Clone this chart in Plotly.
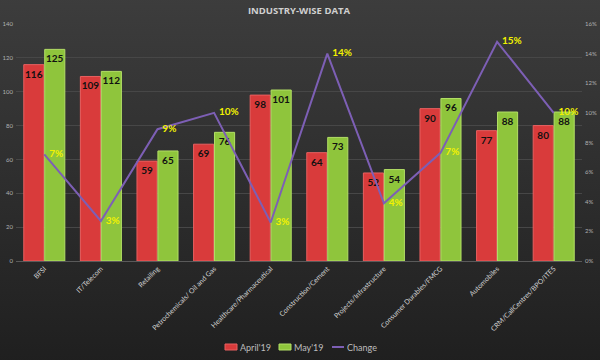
import base64
import plotly.graph_objects as go

categories = ["BFSI", "IT/Telecom", "Retailing", "Petrochemicals/ Oil and Gas",
              "Healthcare/Pharmaceutical", "Construction/Cement", "Projects/Infrastructure",
              "Consumer Durables/FMCG", "Automobiles", "CRM/CallCentres/BPO/ITES"]
april19 = [116, 109, 59, 69, 98, 64, 52, 90, 77, 80]
may19 = [125, 112, 65, 76, 101, 73, 54, 96, 88, 88]
change = [0.072, 0.027, 0.089, 0.100, 0.026, 0.140, 0.039, 0.073, 0.148, 0.100]

W, H = 600, 360
ML, MR, MT, MB = 16, 18, 24, 99
pw, ph = W - ML - MR, H - MT - MB

RED, RED_EDGE = "#d93b3b", "#e86060"
GREEN, GREEN_EDGE = "#8fc53c", "#b3df66"
PURPLE = "#7d5fb5"

svg = ('<svg xmlns="http://www.w3.org/2000/svg" width="600" height="360" preserveAspectRatio="none">'
       '<defs><linearGradient id="g" x1="0" y1="0" x2="0" y2="1">'
       '<stop offset="0" stop-color="#3d3d3d"/><stop offset="1" stop-color="#1f1f1f"/>'
       '</linearGradient></defs><rect width="600" height="360" fill="url(#g)"/></svg>')
bg = "data:image/svg+xml;base64," + base64.b64encode(svg.encode()).decode()

bar_font = dict(color="#111111", size=10, family="Lato", weight="bold")

fig = go.Figure()
fig.add_trace(go.Bar(
    x=categories, y=april19, name="April'19",
    marker=dict(color=RED, line=dict(color=RED_EDGE, width=1)),
    text=april19, textposition="inside", insidetextanchor="end", textangle=0,
    textfont=bar_font, constraintext="none", cliponaxis=False,
))
fig.add_trace(go.Bar(
    x=categories, y=may19, name="May'19",
    marker=dict(color=GREEN, line=dict(color=GREEN_EDGE, width=1)),
    text=may19, textposition="inside", insidetextanchor="end", textangle=0,
    textfont=bar_font, constraintext="none", cliponaxis=False,
))
fig.add_trace(go.Scatter(
    x=categories, y=change, name="Change", yaxis="y2",
    mode="lines+text", line=dict(color=PURPLE, width=2),
    texttemplate="  %{y:.0%}", textposition="middle right",
    textfont=dict(color="#f2f200", size=10, family="Lato", weight="bold"),
    cliponaxis=False,
))

# compact legend drawn below the plot, like the original
def px_x(x):
    return (x - ML) / pw

def px_y(y):
    return (H - MB - y) / ph

leg_y = 347
shapes, annotations = [], []
legend_items = [("April'19", "bar", RED, RED_EDGE, 225),
                ("May'19", "bar", GREEN, GREEN_EDGE, 279),
                ("Change", "line", PURPLE, PURPLE, 332)]
for name, kind, col, edge, x0 in legend_items:
    if kind == "bar":
        shapes.append(dict(type="rect", xref="paper", yref="paper",
                           x0=px_x(x0), x1=px_x(x0 + 12), y0=px_y(leg_y + 3), y1=px_y(leg_y - 3),
                           fillcolor=col, line=dict(color=edge, width=1)))
    else:
        shapes.append(dict(type="line", xref="paper", yref="paper",
                           x0=px_x(x0), x1=px_x(x0 + 12), y0=px_y(leg_y), y1=px_y(leg_y),
                           line=dict(color=col, width=2)))
    annotations.append(dict(text=name, xref="paper", yref="paper",
                            x=px_x(x0 + 13), y=px_y(leg_y), xanchor="left", yanchor="middle",
                            showarrow=False, font=dict(size=9, color="#bdbdbd", family="Lato")))

fig.update_layout(
    width=W, height=H,
    margin=dict(l=ML, r=MR, t=MT, b=MB, autoexpand=False),
    paper_bgcolor="#2c2c2c", plot_bgcolor="rgba(0,0,0,0)",
    images=[dict(source=bg, xref="paper", yref="paper",
                 x=-(ML + 5) / pw, y=1 + (MT + 5) / ph, sizex=(W + 10) / pw, sizey=(H + 10) / ph,
                 xanchor="left", yanchor="top", sizing="stretch", layer="below")],
    title=dict(text="<b>INDUSTRY-WISE DATA</b>", x=0.5, xanchor="center",
               xref="paper", yref="container", y=1 - 11 / H,
               yanchor="middle", automargin=False,
               font=dict(color="#d0d0d0", size=9.5, family="Open Sans")),
    barmode="group", bargap=0.26, bargroupgap=0.04,
    font=dict(family="Lato", color="#bdbdbd"),
    xaxis=dict(tickangle=-45, tickfont=dict(size=7, color="#d0d0d0"),
               showline=True, linecolor="#5a5a5a", linewidth=1, ticks="",
               showgrid=False, automargin=False),
    yaxis=dict(range=[0, 140], dtick=20, tickfont=dict(size=6, color="#b0b0b0"),
               gridcolor="#474747", gridwidth=1, zeroline=False, ticks="",
               ticklabelstandoff=2, automargin=False),
    yaxis2=dict(range=[0, 0.16], dtick=0.02, tickformat=".0%", overlaying="y",
                side="right", showgrid=False, zeroline=False, automargin=False,
                tickfont=dict(size=6, color="#b0b0b0"), ticklabelstandoff=2),
    showlegend=False,
    shapes=shapes, annotations=annotations,
)

fig.write_html("out.html", config={"displayModeBar": False},
               post_script="document.body.style.margin='0';")
